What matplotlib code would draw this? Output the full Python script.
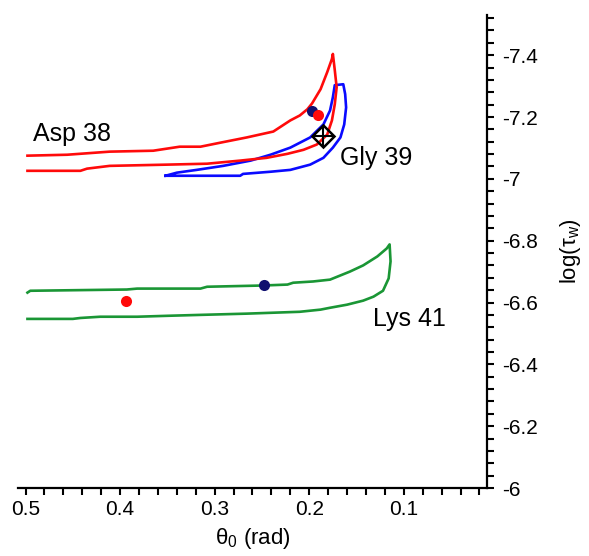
import numpy as np
import matplotlib
matplotlib.use("Agg")
import matplotlib.pyplot as plt
from matplotlib.ticker import MultipleLocator, FixedLocator

plt.rcParams['font.family'] = ['Liberation Sans', 'DejaVu Sans']
plt.rcParams['mathtext.fontset'] = 'custom'
plt.rcParams['mathtext.rm'] = 'Liberation Sans'
plt.rcParams['mathtext.it'] = 'Liberation Sans'

# --- Asp 38 (red) ---
asp_x = [0.498, 0.456, 0.411, 0.365, 0.337, 0.315, 0.294, 0.266, 0.238, 0.220,
         0.210, 0.202, 0.197, 0.188, 0.181, 0.176, 0.175,
         0.173, 0.171, 0.173, 0.176, 0.181, 0.192, 0.206, 0.223, 0.245, 0.273,
         0.308, 0.350, 0.411, 0.435, 0.442, 0.498]
asp_y = [-7.075, -7.078, -7.088, -7.091, -7.104, -7.104, -7.117, -7.134, -7.153, -7.189,
         -7.205, -7.225, -7.244, -7.290, -7.345, -7.388, -7.404,
         -7.352, -7.296, -7.241, -7.189, -7.143, -7.111, -7.094, -7.081, -7.068, -7.059,
         -7.049, -7.046, -7.042, -7.033, -7.026, -7.026]

# --- Gly 39 (blue) ---
gly_x = [0.352, 0.340, 0.319, 0.291, 0.262, 0.241, 0.220, 0.199, 0.185, 0.178,
         0.175, 0.173, 0.164, 0.162, 0.161, 0.163, 0.167, 0.175, 0.185, 0.199,
         0.220, 0.241, 0.270, 0.273, 0.352]
gly_y = [-7.010, -7.020, -7.029, -7.042, -7.059, -7.078, -7.101, -7.134, -7.176, -7.221,
         -7.264, -7.303, -7.306, -7.274, -7.231, -7.176, -7.134, -7.101, -7.068, -7.046,
         -7.029, -7.023, -7.016, -7.010, -7.010]

# --- Lys 41 (green) ---
lys_x = [0.498, 0.495, 0.393, 0.382, 0.315, 0.308, 0.249, 0.223, 0.217, 0.196,
         0.178, 0.157, 0.143, 0.128, 0.118, 0.115,
         0.114, 0.116, 0.122, 0.132, 0.143, 0.160, 0.178, 0.188, 0.210, 0.266,
         0.315, 0.350, 0.382, 0.421, 0.442, 0.450, 0.498]
lys_y = [-6.632, -6.638, -6.642, -6.645, -6.645, -6.651, -6.655, -6.658, -6.664, -6.668,
         -6.674, -6.700, -6.720, -6.749, -6.775, -6.788,
         -6.733, -6.678, -6.638, -6.619, -6.606, -6.593, -6.583, -6.577, -6.570, -6.564,
         -6.560, -6.557, -6.554, -6.554, -6.550, -6.547, -6.547]

# single points
red_pts_x = [0.394, 0.191]
red_pts_y = [-6.606, -7.205]
navy_pts_x = [0.248, 0.197]
navy_pts_y = [-6.658, -7.221]
diamond_x = [0.185]
diamond_y = [-7.140]

labels = ["Asp 38", "Gly 39", "Lys 41"]
label_x = [0.492, 0.167, 0.133]
label_y = [-7.121, -7.046, -6.524]

fig = plt.figure(figsize=(5.89, 5.56), dpi=100)
ax = fig.add_axes([18 / 589, 1 - 488 / 556, 469 / 589, 473 / 556])

lw = 1.9
ax.plot(gly_x, gly_y, color='#0a0aff', lw=lw)
ax.plot(asp_x, asp_y, color='#ff0a0a', lw=lw)
ax.plot(lys_x, lys_y, color='#1a9635', lw=lw)

ax.plot(navy_pts_x, navy_pts_y, 'o', color='#101070', ms=8, mec='none')
ax.plot(red_pts_x, red_pts_y, 'o', color='#ff0a0a', ms=8, mec='none')
ax.plot(diamond_x, diamond_y, 'D', mfc='none', mec='black', mew=1.8, ms=11)
ax.plot(diamond_x, diamond_y, '+', color='black', mew=1.5, ms=15)

for t, x, y in zip(labels, label_x, label_y):
    ax.text(x, y, t, fontsize=18, ha='left', va='baseline')

ax.set_xlim(0.508, 0.012)
ax.set_ylim(-6, -7.53)

ax.spines['top'].set_visible(False)
ax.spines['left'].set_visible(False)
for s in ('bottom', 'right'):
    ax.spines[s].set_linewidth(1.6)

ax.yaxis.tick_right()
ax.yaxis.set_label_position('right')
ax.xaxis.set_major_locator(FixedLocator([0.5, 0.4, 0.3, 0.2, 0.1]))
ax.xaxis.set_minor_locator(MultipleLocator(0.02))
ax.yaxis.set_major_locator(FixedLocator([-6, -6.2, -6.4, -6.6, -6.8, -7, -7.2, -7.4]))
ax.yaxis.set_minor_locator(MultipleLocator(0.04))
ax.set_xticklabels(["0.5", "0.4", "0.3", "0.2", "0.1"])
ax.set_yticklabels(["-6", "-6.2", "-6.4", "-6.6", "-6.8", "-7", "-7.2", "-7.4"])

ax.tick_params(which='both', direction='out', width=1.5, labelsize=15)
ax.tick_params(which='major', length=5)
ax.tick_params(which='minor', length=5)
ax.tick_params(axis='y', pad=6)

ax.set_xlabel(r"$\mathrm{θ}_{0}$ (rad)", fontsize=16, labelpad=5)
ax.set_ylabel(r"log($\mathrm{τ}_{\mathrm{w}}$)", fontsize=16, labelpad=14)

fig.savefig("out.png", dpi=100)
